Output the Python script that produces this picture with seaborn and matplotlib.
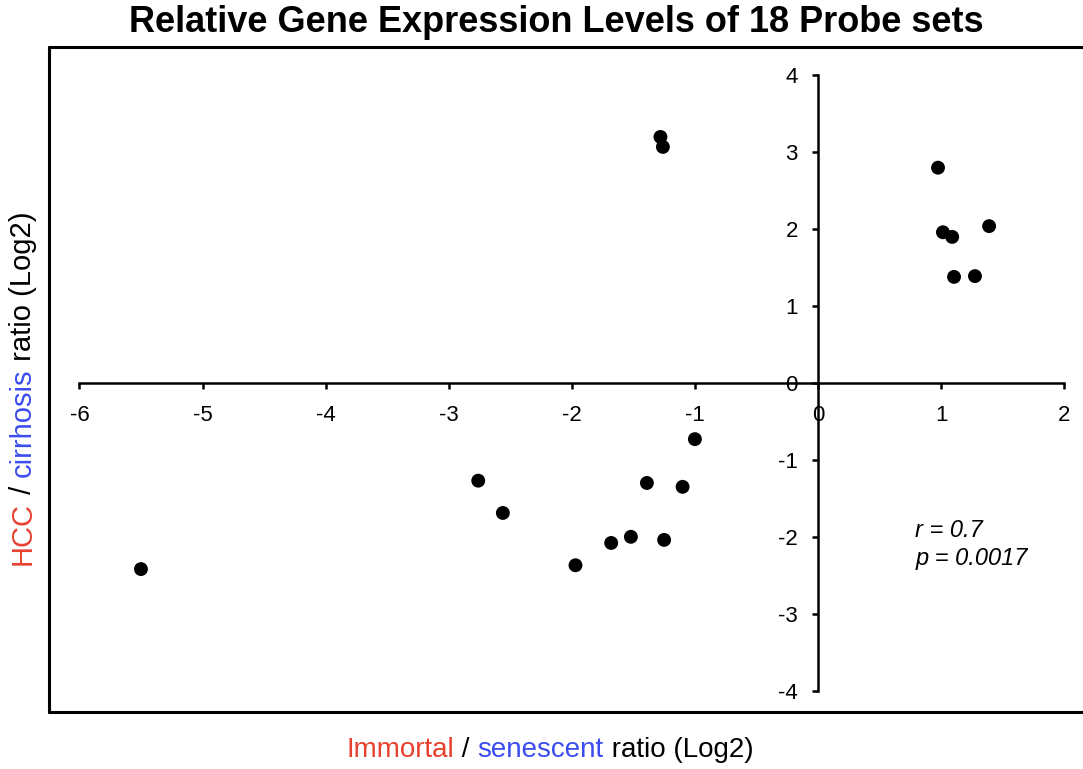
import matplotlib
matplotlib.use("Agg")
import matplotlib.pyplot as plt
import seaborn as sns
import pandas as pd
from matplotlib.lines import Line2D

# ---- data ----
immortal_senescent = [-1.28, -1.26, 0.975, 1.015, 1.09, 1.39, 1.105, 1.275, -1.00,
                      -2.76, -2.56, -1.39, -1.10, -1.68, -1.52, -1.25, -1.97, -5.50]
hcc_cirrhosis = [3.20, 3.07, 2.80, 1.96, 1.90, 2.04, 1.38, 1.39, -0.73,
                 -1.27, -1.69, -1.30, -1.35, -2.08, -2.00, -2.04, -2.37, -2.42]
x_ticks = [-6, -5, -4, -3, -2, -1, 0, 1, 2]
y_ticks = [-4, -3, -2, -1, 0, 1, 2, 3, 4]
title = "Relative Gene Expression Levels of 18 Probe sets"
xlabel_parts = [("Immortal", "#E8402E"), (" / ", "black"), ("senescent", "#3B4DF0"), (" ratio (Log2)", "black")]
ylabel_parts = [("HCC", "#E8402E"), (" / ", "black"), ("cirrhosis", "#3B4DF0"), (" ratio (Log2)", "black")]
stats_text = ["r = 0.7", "p = 0.0017"]

df = pd.DataFrame({"x": immortal_senescent, "y": hcc_cirrhosis})

sns.set_theme(style="white")
plt.rcParams["font.family"] = ["Liberation Sans", "DejaVu Sans"]
plt.rcParams["text.color"] = "black"
plt.rcParams["axes.labelcolor"] = "black"
plt.rcParams["xtick.color"] = "black"
plt.rcParams["ytick.color"] = "black"

W, H = 1083, 769
fig = plt.figure(figsize=(W / 100, H / 100), dpi=100)
L, R, T, B = 49, 1100, 47, 712
ax = fig.add_axes([L / W, 1 - B / H, (R - L) / W, (B - T) / H])

sns.scatterplot(data=df, x="x", y="y", ax=ax, color="black", s=100, edgecolor="none", zorder=5)

x0pix, xscale = 818, 123.1
y0pix, yscale = 383, 76.9
ax.set_xlim((L - x0pix) / xscale, (R - x0pix) / xscale)
ax.set_ylim((y0pix - B) / yscale, (y0pix - T) / yscale)

for s in ["top", "right"]:
    ax.spines[s].set_visible(False)
ax.spines["left"].set_position(("data", 0))
ax.spines["bottom"].set_position(("data", 0))
ax.spines["left"].set_bounds(-4, 4)
ax.spines["bottom"].set_bounds(-6, 2)
for s in ["left", "bottom"]:
    ax.spines[s].set_linewidth(1.8)
    ax.spines[s].set_color("black")
    ax.spines[s].set_zorder(3)

ax.set_xticks(x_ticks)
ax.set_yticks(y_ticks)
ax.set_xticklabels([str(t) for t in x_ticks])
ax.set_yticklabels([str(t) for t in y_ticks])
ax.tick_params(axis="both", which="major", direction="out", length=4.5, width=1.8,
               color="black", labelsize=16, labelcolor="black", bottom=True, left=True)
ax.tick_params(axis="x", pad=11)
ax.tick_params(axis="y", pad=10)
ax.set_xlabel("")
ax.set_ylabel("")
ax.set_facecolor("white")
ax.grid(False)

# outer frame (left, top, bottom)
lw = 2.2
fig.add_artist(Line2D([L / W, L / W], [1 - B / H, 1 - T / H], color="black", lw=lw, transform=fig.transFigure))
fig.add_artist(Line2D([L / W, 1.0], [1 - T / H, 1 - T / H], color="black", lw=lw, transform=fig.transFigure))
fig.add_artist(Line2D([L / W, 1.0], [1 - B / H, 1 - B / H], color="black", lw=lw, transform=fig.transFigure))

# title
fig.text(556 / W, 1 - 23 / H, title, ha="center", va="center", fontsize=26, fontweight="bold", color="black")

# stats annotation
ax.text(0.79, -1.92, stats_text[0], fontsize=17, style="italic", ha="left", va="center", color="black")
ax.text(0.79, -2.28, stats_text[1], fontsize=17, style="italic", ha="left", va="center", color="black")

# multi-colored labels
fig.canvas.draw()
renderer = fig.canvas.get_renderer()

def measure(s, fs):
    t = fig.text(0, 0, s + "|", fontsize=fs)
    t2 = fig.text(0, 0, "|", fontsize=fs)
    w = t.get_window_extent(renderer).width - t2.get_window_extent(renderer).width
    t.remove(); t2.remove()
    return w

# x label
fs_x = 20
widths = [measure(p, fs_x) for p, _ in xlabel_parts]
total = sum(widths)
cx, cy = 550, 750
xpos = cx - total / 2
for (p, c), w in zip(xlabel_parts, widths):
    fig.text(xpos / W, 1 - cy / H, p, color=c, fontsize=fs_x, ha="left", va="center")
    xpos += w

# y label (rotated, bottom to top)
fs_y = 21
widths = [measure(p, fs_y) for p, _ in ylabel_parts]
total = sum(widths)
cx, cy = 23, 388
ypos = cy + total / 2
for (p, c), w in zip(ylabel_parts, widths):
    fig.text(cx / W, 1 - ypos / H, p, color=c, fontsize=fs_y, ha="left", va="center",
             rotation=90, rotation_mode="anchor")
    ypos -= w

fig.savefig("out.png", dpi=100)
